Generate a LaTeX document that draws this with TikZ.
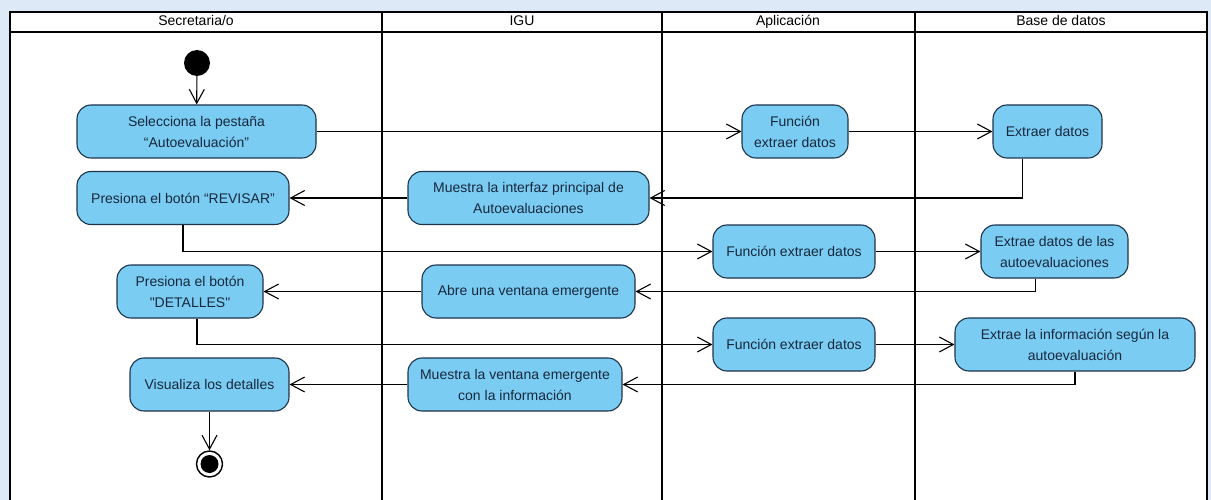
\documentclass[tikz,border=0pt]{standalone}
\usepackage{fontspec}
\setmainfont{Liberation Sans}
\definecolor{vpblue}{RGB}{122,204,242}
\definecolor{vpedge}{RGB}{30,52,74}
\definecolor{vptext}{RGB}{24,40,62}
\definecolor{pagebg}{RGB}{221,233,246}
\usetikzlibrary{arrows.meta}
\newcommand{\acttext}{\fontsize{14}{21}\selectfont}
\tikzset{
  lane/.style={line width=2.2pt,black},
  act/.style={draw=vpedge,fill=vpblue,line width=1.1pt,rounded corners=14pt,
    minimum height=53pt,inner sep=2pt,align=center,text=vptext,font=\acttext},
  flow/.style={-{Straight Barb[length=14pt,width=15pt,line width=1.1pt]},line width=1.1pt},
  lanehead/.style={font=\acttext,text=black,text height=10pt,text depth=3pt},
  startst/.style={circle,fill=black,minimum size=26pt,inner sep=0pt},
  endst/.style={circle,draw=black,fill=white,line width=1.4pt,minimum size=26pt,inner sep=0pt},
}

\begin{document}
\begin{tikzpicture}[x=1pt,y=-1pt]
  \useasboundingbox (0,0) rectangle (1211,500);
  \clip (0,0) rectangle (1211,500);
  \fill[pagebg] (0,0) rectangle (1211,500);
  % marco y carriles
  \fill[white] (10,12) rectangle (1207,512);
  \draw[lane] (10,12) rectangle (1207,512);
  \draw[lane] (10,32) -- (1207,32);
  \foreach \xa in {382,662,915}{%
    \draw[lane] (\xa,12) -- (\xa,512);}
  \node[lanehead] (hsec) at (196,22) {Secretaria/o};
  \node[lanehead] (higu) at (522,22) {IGU};
  \node[lanehead] (hapl) at (788,22) {Aplicación};
  \node[lanehead] (hbdd) at (1061,22) {Base de datos};
  % estados inicial y final
  \node[startst] (ini) at (197,63) {};
  \node[endst] (fin) at (209.5,464) {};
  \fill[black] (fin.center) circle (9pt);
  % acciones
  \node[act,minimum width=239pt] (sel) at (196.5,131.5) {Selecciona la pestaña\\“Autoevaluación”};
  \node[act,minimum width=106pt] (fext1) at (795,131.5) {Función\\extraer datos};
  \node[act,minimum width=109pt] (extr1) at (1047.5,131.5) {Extraer datos};
  \node[act,minimum width=241pt] (intf) at (528.5,198) {Muestra la interfaz principal de\\Autoevaluaciones};
  \node[act,minimum width=212pt] (revi) at (183,198) {Presiona el botón “REVISAR”};
  \node[act,minimum width=162pt] (fext2) at (794,251.5) {Función extraer datos};
  \node[act,minimum width=147pt] (extr2) at (1054.5,251.5) {Extrae datos de las\\autoevaluaciones};
  \node[act,minimum width=213pt] (vent) at (528.5,291.5) {Abre una ventana emergente};
  \node[act,minimum width=146pt] (deta) at (190,291.5) {Presiona el botón\\\textquotedbl DETALLES\textquotedbl};
  \node[act,minimum width=162pt] (fext3) at (794,344.5) {Función extraer datos};
  \node[act,minimum width=240pt] (extr3) at (1075,344.5) {Extrae la información según la\\autoevaluación};
  \node[act,minimum width=214pt] (vinf) at (515,384.5) {Muestra la ventana emergente\\con la información};
  \node[act,minimum width=159pt] (visu) at (209.5,384.5) {Visualiza los detalles};
  % flujos
  \draw[flow] (ini) -- (sel);
  \draw[flow] (sel) -- (fext1);
  \draw[flow] (fext1) -- (extr1);
  \draw[flow] ([xshift=-25pt]extr1.south) |- (intf.east);
  \draw[flow] (intf) -- (revi);
  \draw[flow] (revi.south) |- (fext2.west);
  \draw[flow] (fext2) -- (extr2);
  \draw[flow] ([xshift=-19pt]extr2.south) |- (vent.east);
  \draw[flow] (vent) -- (deta);
  \draw[flow] ([xshift=7pt]deta.south) |- (fext3.west);
  \draw[flow] (fext3) -- (extr3);
  \draw[flow] (extr3.south) |- (vinf.east);
  \draw[flow] (vinf) -- (visu);
  \draw[flow] (visu) -- (fin);
\end{tikzpicture}
\end{document}
